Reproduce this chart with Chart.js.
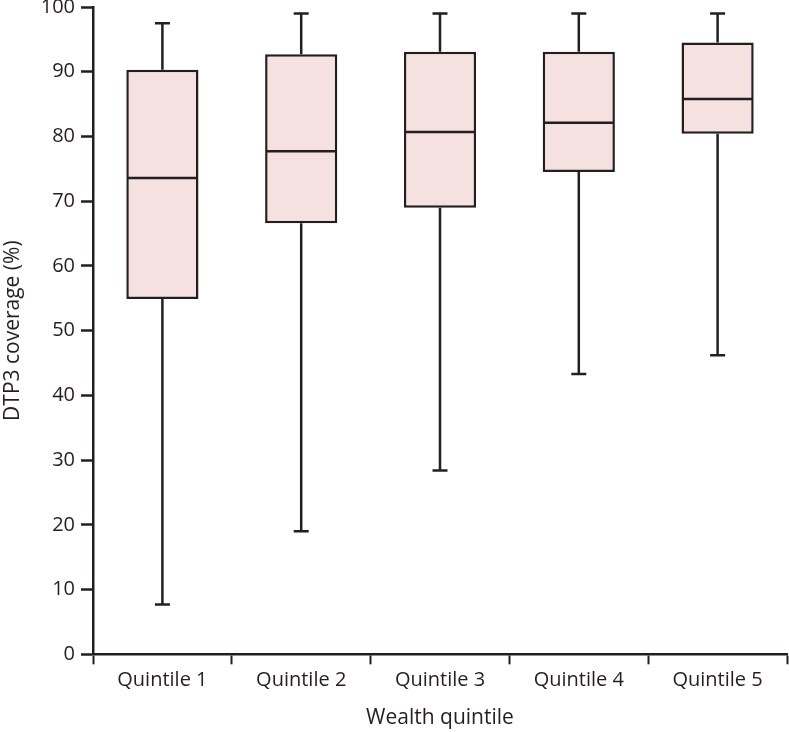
<!DOCTYPE html>
<html>
<head>
<meta charset="utf-8">
<script src="https://cdn.jsdelivr.net/npm/chart.js@4/dist/chart.umd.min.js"></script>
<style>
  html, body { margin: 0; padding: 0; background: #ffffff; }
  #wrap { width: 789px; height: 732px; position: relative; }
</style>
</head>
<body>
<div id="wrap"><canvas id="c" width="789" height="732"></canvas></div>
<script>
const categories = ['Quintile 1', 'Quintile 2', 'Quintile 3', 'Quintile 4', 'Quintile 5'];
const minVals    = [7.7, 19.0, 28.4, 43.3, 46.2];
const q1Vals     = [54.9, 66.6, 69.0, 74.5, 80.4];
const medianVals = [73.6, 77.7, 80.7, 82.1, 85.8];
const q3Vals     = [90.3, 92.7, 93.1, 93.1, 94.5];
const maxVals    = [97.5, 99.0, 99.0, 99.0, 99.0];
const yAxisMin = 0, yAxisMax = 100, yStep = 10;

const ink = '#231f20';
const boxFill = '#f6e1e1';
const fontFamily = '"Open Sans", "Noto Sans", sans-serif';

const boxData = categories.map((c, i) => [q1Vals[i], q3Vals[i]]);

const whiskerPlugin = {
  id: 'whiskers',
  beforeDatasetsDraw(chart) {
    const ctx = chart.ctx, y = chart.scales.y;
    const meta = chart.getDatasetMeta(0);
    ctx.save();
    ctx.strokeStyle = ink;
    ctx.lineWidth = 2.5;
    meta.data.forEach((bar, i) => {
      const x = bar.x;
      const capHalf = 7.5;
      ctx.beginPath();
      ctx.moveTo(x, y.getPixelForValue(q3Vals[i]));
      ctx.lineTo(x, y.getPixelForValue(maxVals[i]));
      ctx.moveTo(x, y.getPixelForValue(q1Vals[i]));
      ctx.lineTo(x, y.getPixelForValue(minVals[i]));
      ctx.moveTo(x - capHalf, y.getPixelForValue(maxVals[i]));
      ctx.lineTo(x + capHalf, y.getPixelForValue(maxVals[i]));
      ctx.moveTo(x - capHalf, y.getPixelForValue(minVals[i]));
      ctx.lineTo(x + capHalf, y.getPixelForValue(minVals[i]));
      ctx.stroke();
    });
    ctx.restore();
  },
  afterDatasetsDraw(chart) {
    const ctx = chart.ctx, y = chart.scales.y;
    const meta = chart.getDatasetMeta(0);
    ctx.save();
    ctx.strokeStyle = ink;
    ctx.lineWidth = 2.5;
    meta.data.forEach((bar, i) => {
      const half = bar.width / 2;
      const my = y.getPixelForValue(medianVals[i]);
      ctx.beginPath();
      ctx.moveTo(bar.x - half + 1, my);
      ctx.lineTo(bar.x + half - 1, my);
      ctx.stroke();
    });
    ctx.restore();
  }
};

new Chart(document.getElementById('c'), {
  type: 'bar',
  data: {
    labels: categories,
    datasets: [{
      data: boxData,
      backgroundColor: boxFill,
      borderColor: ink,
      borderWidth: 2.5,
      borderSkipped: false,
      barPercentage: 0.52,
      categoryPercentage: 1.0
    }]
  },
  options: {
    responsive: false,
    animation: false,
    devicePixelRatio: 1,
    layout: { padding: { left: 0, right: 2, top: 0, bottom: 1 } },
    plugins: { legend: { display: false }, tooltip: { enabled: false } },
    scales: {
      x: {
        offset: true,
        grid: {
          offset: true,
          drawOnChartArea: false,
          drawTicks: true,
          tickLength: 10,
          tickWidth: 2,
          tickColor: ink
        },
        border: { display: true, color: ink, width: 2.5 },
        ticks: { color: ink, font: { family: fontFamily, size: 20 }, padding: 4 },
        title: {
          display: true,
          text: 'Wealth quintile',
          color: ink,
          font: { family: fontFamily, size: 21 },
          padding: { top: 9.5, bottom: 0 }
        }
      },
      y: {
        min: yAxisMin,
        max: yAxisMax,
        afterFit(scale) { scale.width = 93; scale.paddingTop = 7; },
        ticks: { stepSize: yStep, color: ink, font: { family: fontFamily, size: 20 }, padding: 6 },
        grid: {
          drawOnChartArea: false,
          drawTicks: true,
          tickLength: 12,
          tickWidth: 2.5,
          tickColor: ink
        },
        border: { display: true, color: ink, width: 2.5 },
        title: {
          display: true,
          text: 'DTP3 coverage (%)',
          color: ink,
          font: { family: fontFamily, size: 21 },
          padding: { top: 0, bottom: 6 }
        }
      }
    }
  },
  plugins: [whiskerPlugin]
});
</script>
</body>
</html>
